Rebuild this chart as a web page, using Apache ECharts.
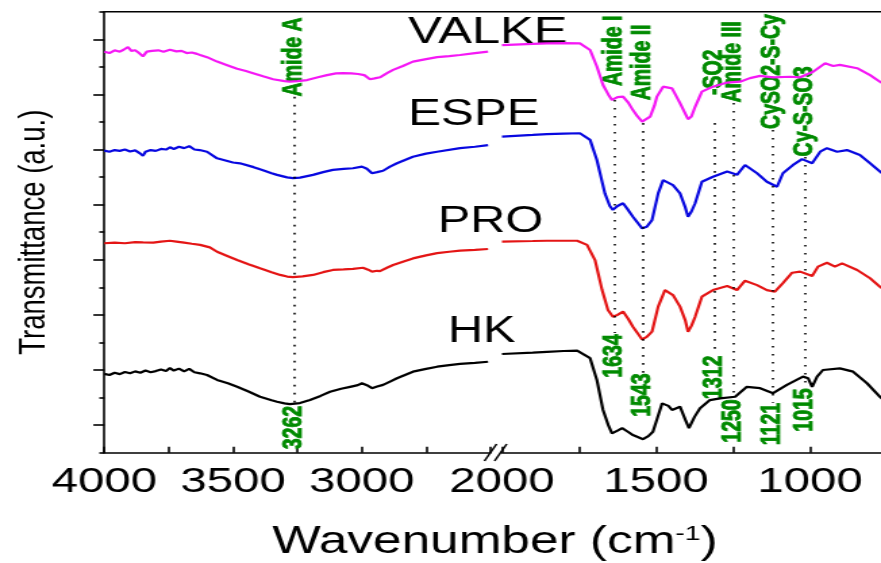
<!DOCTYPE html>
<html>
<head>
<meta charset="utf-8">
<title>FTIR spectra</title>
<script src="https://cdn.jsdelivr.net/npm/echarts@6/dist/echarts.min.js"></script>
<style>
  html, body { margin: 0; padding: 0; background: #fff; overflow: hidden; }
  /* the chart is laid out on a narrower canvas and widened horizontally */
  #chart { width: 652px; height: 563px; transform: scaleX(1.351227); transform-origin: 0 0; }
</style>
</head>
<body>
<div id="chart"></div>
<script>
// ---- spectra: [wavenumber (cm-1), transmittance (a.u., offset)] ----
// high-wavenumber window (4000-2500)
const valkeHighWn = [[4000,14.55],[3980,14.5],[3960,14.6],[3940,14.55],[3925,14.62],[3908,14.72],[3895,14.58],[3880,14.6],[3865,14.5],[3850,14.38],[3835,14.55],[3815,14.58],[3790,14.6],[3770,14.55],[3745,14.62],[3720,14.56],[3700,14.58],[3680,14.5],[3660,14.52],[3640,14.47],[3628,14.43],[3601,14.35],[3562,14.19],[3520,14.05],[3484,13.93],[3450,13.85],[3422,13.77],[3380,13.65],[3344,13.55],[3300,13.48],[3279,13.46],[3250,13.48],[3212,13.52],[3170,13.62],[3135,13.70],[3100,13.76],[3073,13.77],[3040,13.76],[3014,13.74],[2990,13.70],[2968,13.55],[2950,13.58],[2929,13.62],[2900,13.78],[2878,13.89],[2840,14.03],[2801,14.19],[2750,14.28],[2707,14.35],[2660,14.39],[2618,14.43],[2560,14.5],[2509,14.55]];
const espeHighWn = [[4000,10.96],[3980,10.92],[3960,10.98],[3940,10.95],[3920,11.0],[3900,10.93],[3880,10.97],[3860,10.85],[3850,10.77],[3840,10.92],[3820,10.98],[3800,10.95],[3780,11.02],[3760,11.0],[3745,11.08],[3730,11.02],[3710,11.1],[3690,11.05],[3670,11.12],[3650,11.0],[3630,10.98],[3601,10.92],[3562,10.68],[3500,10.53],[3473,10.50],[3420,10.36],[3395,10.28],[3350,10.14],[3329,10.08],[3290,9.99],[3267,9.96],[3240,9.98],[3189,10.08],[3150,10.18],[3112,10.26],[3070,10.30],[3034,10.32],[2999,10.38],[2980,10.3],[2960,10.14],[2940,10.18],[2917,10.23],[2890,10.38],[2863,10.50],[2801,10.74],[2750,10.85],[2707,10.92],[2618,11.05],[2560,11.10],[2509,11.16]];
const proHighWn = [[4000,7.60],[3960,7.62],[3920,7.6],[3880,7.64],[3850,7.63],[3810,7.62],[3780,7.66],[3745,7.69],[3720,7.66],[3690,7.62],[3660,7.58],[3628,7.54],[3590,7.45],[3562,7.29],[3520,7.13],[3484,6.99],[3440,6.84],[3395,6.69],[3350,6.55],[3317,6.45],[3290,6.39],[3267,6.37],[3230,6.40],[3189,6.45],[3150,6.55],[3112,6.63],[3070,6.65],[3034,6.67],[2995,6.71],[2975,6.64],[2960,6.57],[2940,6.6],[2929,6.59],[2900,6.72],[2878,6.81],[2840,6.93],[2801,7.05],[2750,7.16],[2707,7.24],[2660,7.29],[2618,7.33],[2560,7.36],[2509,7.39]];
const hkHighWn = [[4000,2.86],[3980,2.82],[3960,2.9],[3940,2.85],[3920,2.93],[3900,2.88],[3880,2.95],[3860,2.9],[3840,2.98],[3820,2.92],[3800,2.96],[3780,3.02],[3760,2.96],[3745,3.07],[3730,2.98],[3710,3.05],[3690,2.95],[3670,3.04],[3650,2.92],[3628,2.88],[3601,2.82],[3562,2.64],[3520,2.52],[3484,2.39],[3440,2.22],[3395,2.03],[3350,1.90],[3329,1.85],[3300,1.79],[3279,1.76],[3240,1.80],[3201,1.91],[3160,2.06],[3123,2.21],[3080,2.32],[3045,2.39],[3015,2.45],[2999,2.52],[2980,2.45],[2960,2.34],[2940,2.4],[2917,2.46],[2890,2.58],[2863,2.70],[2801,2.94],[2750,3.04],[2707,3.12],[2660,3.18],[2618,3.22],[2560,3.26],[2509,3.30]];

// fingerprint window (2000-750)
const valkeLowWn = [[2000,14.79],[1900,14.83],[1854,14.85],[1800,14.86],[1747,14.85],[1714,14.61],[1692,14.01],[1672,13.34],[1655,13.0],[1643,12.80],[1625,12.9],[1607,12.92],[1590,12.7],[1575,12.43],[1560,12.2],[1545,12.01],[1519,12.19],[1505,12.6],[1497,12.92],[1477,13.28],[1448,13.22],[1422,12.68],[1405,12.3],[1396,12.10],[1385,12.2],[1373,12.55],[1351,13.10],[1315,13.28],[1269,13.43],[1227,13.46],[1195,13.59],[1162,13.67],[1120,13.62],[1065,13.64],[1032,13.62],[990,13.82],[951,14.13],[925,14.03],[903,14.07],[847,13.95],[805,13.70],[773,13.46],[750,13.30]];
const espeLowWn = [[2000,11.47],[1900,11.53],[1854,11.56],[1800,11.58],[1747,11.59],[1714,11.35],[1692,10.62],[1666,9.41],[1650,8.95],[1640,8.81],[1625,8.95],[1607,9.05],[1590,8.8],[1575,8.56],[1545,8.14],[1530,8.2],[1513,8.44],[1493,9.41],[1477,9.89],[1445,9.71],[1422,9.41],[1405,8.9],[1396,8.56],[1385,8.75],[1373,9.05],[1351,9.83],[1315,10.01],[1269,10.20],[1237,10.08],[1211,10.44],[1172,10.14],[1140,9.83],[1107,9.65],[1088,10.14],[1055,10.44],[1026,10.65],[993,10.50],[967,10.92],[945,11.05],[912,10.92],[880,10.98],[838,10.80],[805,10.50],[773,10.20],[750,10.0]];
const proLowWn = [[2000,7.66],[1900,7.68],[1854,7.69],[1800,7.69],[1756,7.69],[1724,7.54],[1698,6.99],[1675,5.90],[1656,5.18],[1640,4.93],[1625,5.0],[1607,5.12],[1590,4.85],[1575,4.57],[1545,4.11],[1530,4.2],[1513,4.39],[1493,5.30],[1471,5.90],[1445,5.72],[1422,5.30],[1405,4.8],[1396,4.39],[1385,4.6],[1373,4.93],[1351,5.66],[1315,5.90],[1269,6.05],[1237,5.90],[1211,6.24],[1172,6.08],[1140,5.90],[1114,5.84],[1088,6.15],[1058,6.53],[1032,6.57],[993,6.41],[974,6.75],[945,6.89],[919,6.75],[896,6.87],[847,6.63],[805,6.33],[773,6.02],[750,5.85]];
const hkLowWn = [[2000,3.58],[1900,3.63],[1854,3.66],[1800,3.69],[1756,3.70],[1714,3.43],[1692,2.64],[1672,1.55],[1655,1.0],[1643,0.70],[1625,0.8],[1610,0.89],[1590,0.75],[1575,0.64],[1542,0.49],[1525,0.6],[1510,0.76],[1480,1.79],[1460,1.7],[1448,1.55],[1422,1.67],[1405,1.2],[1393,0.89],[1375,1.3],[1357,1.61],[1325,1.91],[1292,1.97],[1243,2.03],[1205,2.39],[1162,2.34],[1120,2.16],[1075,2.46],[1023,2.76],[1006,2.70],[993,2.39],[977,2.76],[958,3.00],[903,3.06],[860,2.94],[815,2.52],[773,2.03],[750,1.8]];

const sampleNames = ['VALKE', 'ESPE', 'PRO', 'HK'];

// assigned bands
const bandNames = ['Amide A', 'Amide I', 'Amide II', '-SO2', 'Amide III', 'CySO2-S-Cy', 'Cy-S-SO3'];
const bandWavenumbers = [3262, 1634, 1543, 1312, 1250, 1121, 1015];

// axis tick labels
const highTickLabels = [4000, 3500, 3000];
const lowTickLabels = [2000, 1500, 1000];

// ---- layout ----
const FONT = "'Liberation Sans', Arial, Helvetica, sans-serif";
const GREEN = '#008a00';
const colors = { VALKE: '#f518f5', ESPE: '#0808e0', PRO: '#e41515', HK: '#000000' };
// vertical placement of each band's name, number and guide line (y in axis units)
const bandLayout = [
  { nameY: 14.36, numY: 0.91, top: 12.91, bottom: 1.77 },
  { nameY: 14.58, numY: 3.51, top: 12.80, bottom: 4.34 },
  { nameY: 14.16, numY: 2.09, top: 11.96, bottom: 2.89 },
  { nameY: 13.80, numY: 2.73, top: 11.96, bottom: 3.62 },
  { nameY: 14.18, numY: 1.15, top: 12.69, bottom: 2.02 },
  { nameY: 13.83, numY: 1.04, top: 11.71, bottom: 1.81 },
  { nameY: 12.38, numY: 1.55, top: 10.73, bottom: 2.38 }
];
// sample name positions (canvas px, before the horizontal widening) and sizes
const nameLayout = {
  VALKE: { x: 302, y: 32.4, size: 37.5 },
  ESPE: { x: 302, y: 114.7, size: 36.5 },
  PRO: { x: 324, y: 222.4, size: 36 },
  HK: { x: 331.6, y: 332.4, size: 36 }
};

const GRID_TOP = 11.7, GRID_H = 441;
const axisLineStyle = { color: '#000', width: 1.6 };

function xAxisFor(gridIndex, min, max, labels) {
  return {
    gridIndex, type: 'value', min, max, interval: 250, inverse: true,
    axisLine: { show: true, onZero: false, lineStyle: axisLineStyle },
    axisTick: { show: true, inside: true, length: 6, lineStyle: axisLineStyle },
    axisLabel: {
      show: true, margin: 12, fontSize: 35, fontFamily: FONT, color: '#000',
      showMinLabel: true, showMaxLabel: true,
      formatter: v => (labels.includes(v) ? String(v) : '')
    },
    splitLine: { show: false }
  };
}

const series = [];
const spectra = [
  ['VALKE', valkeHighWn, valkeLowWn],
  ['ESPE', espeHighWn, espeLowWn],
  ['PRO', proHighWn, proLowWn],
  ['HK', hkHighWn, hkLowWn]
];
spectra.forEach(([name, hi, lo]) => {
  [[0, hi], [1, lo]].forEach(([g, data]) => {
    series.push({
      name, type: 'line', xAxisIndex: g, yAxisIndex: g, data,
      showSymbol: false, symbol: 'none', silent: true,
      lineStyle: { color: colors[name], width: 2.2 }, itemStyle: { color: colors[name] }
    });
  });
});

// dotted guide lines and rotated band labels
[0, 1].forEach(g => {
  const idx = bandWavenumbers.map((w, i) => i).filter(i => (g === 0 ? bandWavenumbers[i] > 2000 : bandWavenumbers[i] <= 2000));
  series.push({
    type: 'scatter', xAxisIndex: g, yAxisIndex: g, symbolSize: 1, silent: true,
    itemStyle: { color: '#fff', opacity: 0 },
    data: idx.flatMap(i => [
      { name: bandNames[i], value: [bandWavenumbers[i], bandLayout[i].nameY] },
      { name: String(bandWavenumbers[i]), value: [bandWavenumbers[i], bandLayout[i].numY] }
    ]),
    label: {
      show: true, position: 'inside', rotate: 90, formatter: p => p.name,
      color: GREEN, opacity: 1, fontSize: 19.5, fontWeight: 'bold', fontFamily: FONT,
      textBorderColor: GREEN, textBorderWidth: 0.7,
      align: 'center', verticalAlign: 'middle'
    },
    labelLayout: { hideOverlap: false },
    markLine: {
      silent: true, symbol: ['none', 'none'],
      label: { show: false },
      lineStyle: { color: '#000', width: 1.6, type: [1.6, 6.4], opacity: 1 },
      data: idx.map(i => [
        { coord: [bandWavenumbers[i], bandLayout[i].top] },
        { coord: [bandWavenumbers[i], bandLayout[i].bottom] }
      ])
    }
  });
});

const graphic = [
  // top frame line
  { type: 'line', shape: { x1: 77.19, y1: GRID_TOP, x2: 660, y2: GRID_TOP }, style: { stroke: '#000', lineWidth: 1.6 }, silent: true },
  // axis break marks
  { type: 'line', shape: { x1: 358.5, y1: 461, x2: 367.5, y2: 444 }, style: { stroke: '#000', lineWidth: 1.6 }, silent: true },
  { type: 'line', shape: { x1: 366, y1: 461, x2: 375, y2: 444 }, style: { stroke: '#000', lineWidth: 1.6 }, silent: true },
  // x axis title
  {
    type: 'text', x: 366.3, y: 542.5, silent: true,
    style: {
      text: '{a|Wavenumber (cm}{s|-1}{a|)}',
      align: 'center', verticalAlign: 'middle',
      rich: {
        a: { fontSize: 38, fontFamily: FONT, fill: '#000' },
        s: { fontSize: 21, fontFamily: FONT, fill: '#000', verticalAlign: 'top' }
      }
    }
  }
];
sampleNames.forEach(n => {
  const L = nameLayout[n];
  graphic.push({
    type: 'text', x: L.x, y: L.y, silent: true,
    style: { text: n, fontSize: L.size, fontFamily: FONT, fill: '#000', align: 'left', verticalAlign: 'middle' }
  });
});

const chart = echarts.init(document.getElementById('chart'), null, { renderer: 'canvas' });
chart.setOption({
  animation: false,
  backgroundColor: '#fff',
  grid: [
    { left: 77.19, top: GRID_TOP, width: 285.74, height: GRID_H, outerBoundsMode: 'none', containLabel: false },
    { left: 371.51, top: GRID_TOP, width: 284.93, height: GRID_H, outerBoundsMode: 'none', containLabel: false }
  ],
  xAxis: [
    xAxisFor(0, 2500, 4000, highTickLabels),
    xAxisFor(1, 750, 2000, lowTickLabels)
  ],
  yAxis: [
    {
      gridIndex: 0, type: 'value', min: 0, max: 16, interval: 2,
      name: 'Transmittance (a.u.)', nameLocation: 'middle', nameGap: 37.5,
      nameTextStyle: { fontSize: 27.5, fontFamily: FONT, color: '#000' },
      axisLine: { show: true, lineStyle: axisLineStyle },
      axisTick: { show: true, length: 3.7, lineStyle: axisLineStyle },
      minorTick: { show: true, splitNumber: 2, length: 8.1, lineStyle: axisLineStyle },
      axisLabel: { show: false },
      splitLine: { show: false }, minorSplitLine: { show: false }
    },
    { gridIndex: 1, type: 'value', min: 0, max: 16, show: false, splitLine: { show: false } }
  ],
  series,
  graphic
});
</script>
</body>
</html>
